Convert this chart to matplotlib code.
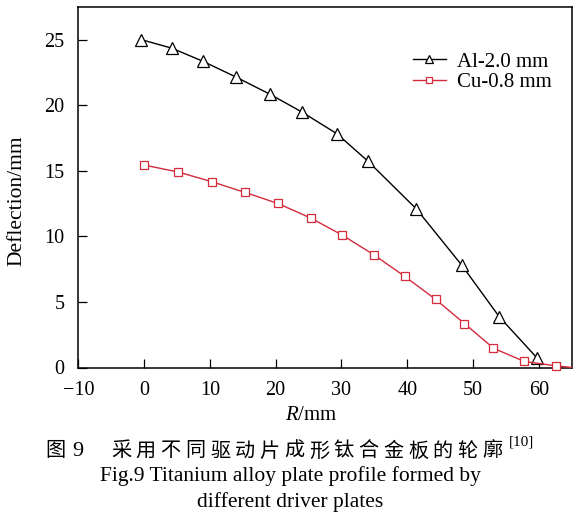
import matplotlib
import matplotlib.pyplot as plt
matplotlib.use('Agg')

plt.rcParams['font.family'] = ['Liberation Serif', 'DejaVu Serif']
plt.rcParams['mathtext.fontset'] = 'custom'
plt.rcParams['mathtext.it'] = 'Liberation Serif:italic'
plt.rcParams['mathtext.rm'] = 'Liberation Serif'

# DATA
al_r = [-0.5, 4.2, 8.9, 14.0, 19.2, 24.0, 29.3, 34.0, 41.4, 48.3, 54.0, 59.8]
al_d = [25.0, 24.34, 23.35, 22.13, 20.81, 19.47, 17.82, 15.74, 12.08, 7.79, 3.86, 0.69]

cu_r = [0.0, 5.2, 10.3, 15.3, 20.3, 25.3, 30.1, 34.9, 39.6, 44.3, 48.7, 53.1, 57.8, 62.6]
cu_d = [15.43, 14.90, 14.16, 13.35, 12.51, 11.40, 10.10, 8.60, 6.95, 5.20, 3.35, 1.47, 0.46, 0.13]
# red curve runs on along the axis to the right frame
cu_tail_r = [65.0]
cu_tail_d = [0.0]

x_ticks = [-10, 0, 10, 20, 30, 40, 50, 60]
y_ticks = [0, 5, 10, 15, 20, 25]

labels = ['Al-2.0 mm', 'Cu-0.8 mm']
caption_cn = '采用不同驱动片成形钛合金板的轮廓'
caption_en = ['Fig.9 Titanium alloy plate profile formed by', 'different driver plates']

red = '#d42a3c'

######################
# PLOT
######################

fig = plt.figure(figsize=(5.8, 5.21), dpi=100, facecolor='w')
ax = fig.add_axes([78.3 / 580, 1 - 367.5 / 521, (571.7 - 78.3) / 580, (367.5 - 6.7) / 521])

ax.plot(al_r, al_d, linestyle='-', linewidth=1.0, color='black', marker='^', markersize=8.4,
        markerfacecolor='white', markeredgecolor='black', markeredgewidth=0.9, clip_on=False,
        zorder=3, label=labels[0])
ax.plot(cu_r + cu_tail_r, cu_d + cu_tail_d, linestyle='-', linewidth=1.0, color=red, marker='s',
        markersize=5.3, markevery=list(range(len(cu_r))), markerfacecolor='white',
        markeredgecolor=red, markeredgewidth=0.9, clip_on=False, zorder=3, label=labels[1])

ax.set_xlim(-10, 65)
ax.set_ylim(0, 27.5)
ax.set_xticks(x_ticks)
ax.set_yticks(y_ticks)
ax.set_xticklabels(['\u2212' + str(-t) if t < 0 else str(t) for t in x_ticks])
ax.tick_params(axis='both', direction='in', length=6.5, width=0.9, labelsize=14.5, pad=10)
for sp in ax.spines.values():
    sp.set_linewidth(1.1)

ax.set_ylabel('Deflection/mm', fontsize=15.5)
ax.yaxis.set_label_coords(-0.106, 0.461)
fig.text(311 / 580, 1 - 415 / 521, '$R$/mm', fontsize=15, ha='center', va='center')

leg = ax.legend(loc='upper left', bbox_to_anchor=(412.7 / 580, 1 - 52 / 521),
                bbox_transform=fig.transFigure, frameon=False, fontsize=15, borderpad=0,
                handlelength=1.6, handletextpad=0.55, labelspacing=0.05, markerscale=0.7,
                borderaxespad=0)

# caption, chinese line with wide letter spacing
cn_font = ['Noto Sans CJK SC', 'DejaVu Sans']
y_cn = 1 - 451 / 521
fig.text(45 / 580, y_cn, '图', family=cn_font, fontsize=14.5, ha='left', va='center')
fig.text(72 / 580, y_cn, '9', fontsize=16, ha='left', va='center')
for i, ch in enumerate(caption_cn):
    fig.text((111 + i * 24.75) / 580, y_cn, ch, family=cn_font, fontsize=14.5, ha='left', va='center')
fig.text(509 / 580, 1 - 442 / 521, '[10]', fontsize=11, ha='left', va='center')

fig.text(290.5 / 580, 1 - 476 / 521, caption_en[0], fontsize=15.5, ha='center', va='center')
fig.text(290 / 580, 1 - 502 / 521, caption_en[1], fontsize=15.5, ha='center', va='center')

fig.savefig('out.png', dpi=100, facecolor='w')
plt.close(fig)
